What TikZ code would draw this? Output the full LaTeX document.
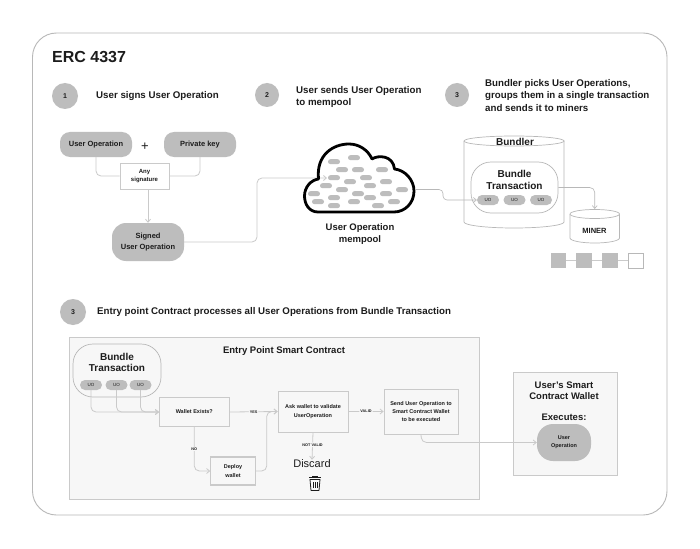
\documentclass[tikz,border=0pt]{standalone}
\usepackage{fontspec}
\setmainfont{Liberation Sans}
\usetikzlibrary{arrows.meta}
\definecolor{ink}{HTML}{1C1C1C}
\definecolor{greyfill}{HTML}{BDBDBD}
\definecolor{wire}{HTML}{CACACA}
\definecolor{frame}{HTML}{B8B8B8}
\definecolor{panel}{HTML}{F7F7F7}
\tikzset{
  txt/.style={inner sep=0pt,text=ink,align=center,font=\bfseries\fontsize{#1}{#1}\selectfont},
  txt/.default=8,
  lefttxt/.style={inner sep=0pt,text=ink,align=left,anchor=west,font=\bfseries\fontsize{9.72}{12.2}\selectfont},
  badge/.style={circle,fill=greyfill,inner sep=0pt,minimum size=#1,text=ink,font=\bfseries\fontsize{7}{7}\selectfont},
  greybox/.style={fill=greyfill,draw=none,inner sep=0pt,rounded corners=10pt,text=ink,align=center,font=\bfseries\fontsize{7.5}{11}\selectfont},
  whitebox/.style={fill=white,draw=wire,line width=.8pt,inner sep=0pt,text=ink,align=center,font=\bfseries\fontsize{6}{8}\selectfont},
  panelbox/.style={fill=panel,draw=wire,line width=.9pt,inner sep=0pt},
  bundlebox/.style={fill=white,draw=frame,line width=.7pt,inner sep=0pt,rounded corners=20pt},
  uopill/.style={fill=greyfill,inner sep=0pt,rounded corners=5pt,minimum width=22pt,minimum height=10pt,text=ink,font=\fontsize{4.5}{4.5}\selectfont},
  cloudpill/.style={fill=greyfill,inner sep=0pt,rounded corners=2.5pt,minimum width=12pt,minimum height=5pt},
  wirearrow/.style={draw=wire,line width=.8pt,rounded corners=5pt,-{Straight Barb[length=3pt,width=5pt]}},
  wireline/.style={draw=wire,line width=.8pt,rounded corners=5pt},
  tiny/.style={inner sep=1pt,fill=#1,text=ink,font=\bfseries\fontsize{3.8}{4}\selectfont},
  tiny/.default=panel,
  cyl/.style={draw=frame,line width=.7pt,fill=white},
  chain/.style={fill=greyfill,inner sep=0pt,minimum size=15.5pt},
}
\begin{document}
\begin{tikzpicture}[x=1pt,y=-1pt]
\useasboundingbox (0,0) rectangle (700,548);
\fill[white] (0,0) rectangle (700,548);
\draw[frame,line width=.9pt,rounded corners=24pt] (32.5,33) rectangle (667,515);

% headings
\node[inner sep=0pt,anchor=west,text=ink,font=\bfseries\fontsize{16}{16}\selectfont] (title) at (52,57.5) {ERC 4337};
\node[badge=26pt] (b1) at (65,96) {1};
\node[lefttxt] (h1) at (96,96) {User signs User Operation};
\node[badge=24pt] (b2) at (267,95) {2};
\node[lefttxt] (h2) at (296,97) {User sends User Operation\\to mempool};
\node[badge=24pt] (b3) at (457,95) {3};
\node[lefttxt] (h3) at (485,95.5) {Bundler picks User Operations,\\groups them in a single transaction\\and sends it to miners};
\node[badge=26pt] (b4) at (73,312) {3};
\node[lefttxt] (h4) at (97,312) {Entry point Contract processes all User Operations from Bundle Transaction};

% step 1
\node[greybox,minimum width=72pt,minimum height=25pt] (uop) at (96,144.5) {User Operation};
\node[greybox,minimum width=72pt,minimum height=25pt] (pk) at (200,144.5) {Private key};
\node[inner sep=0pt,text=ink,font=\fontsize{13}{13}\selectfont] (plus) at (145,146.5) {+};
\node[whitebox,minimum width=49pt,minimum height=26pt] (any) at (144.5,176) {Any\\signature};
\node[greybox,minimum width=72pt,minimum height=38pt,rounded corners=14pt] (signed) at (148,242) {Signed\\User Operation};
\draw[wireline] (uop.south) |- (any.west);
\draw[wireline] (pk.south) |- (any.east);
\draw[wirearrow] (any.south -| signed.north) -- (signed.north);

% cloud
\coordinate (cloudin) at (327,178);
\coordinate (cloudout) at (415,189.5);
\coordinate (bend1) at (257,178);
\draw[wirearrow] (signed.east) -| (bend1) -- (cloudin);
\draw[black,line width=2.8pt,line join=round] (318.5,179)
  .. controls (316,155) and (333,144) .. (349,144)
  .. controls (359,144) and (368,150) .. (372,159)
  .. controls (378,155) and (393,155) .. (394.5,169)
  .. controls (405,170) and (414,180) .. (414,191)
  .. controls (414,203) and (405,212) .. (394,212)
  -- (318,212)
  .. controls (309,212) and (304.5,204) .. (304.5,196)
  .. controls (304.5,187) and (311,180) .. (318.5,179) -- cycle;
\foreach \i/\X/\Y in {a/117/80,b/177/68,c/141/104,d/189/104,e/261/104,f/117/128,g/213/128,h/165/140,i/273/140,j/93/152,k/225/152,l/321/164,m/141/164,n/57/176,o/189/176,p/273/176,q/117/188,r/225/188,s/69/200,t/177/200,u/297/200,v/117/212,w/249/212}
  \node[cloudpill] (cp\i) at ({295+\X/3},{135+\Y/3}) {};
\node[txt=9.5,font=\bfseries\fontsize{9.5}{12}\selectfont] (memlabel) at (360,234) {User Operation\\mempool};

% bundler
\draw[cyl] (464,141) -- (464,222) arc[start angle=180,end angle=360,x radius=50pt,y radius=6pt] -- (564,141);
\draw[cyl] (514,141) ellipse[x radius=50pt,y radius=5pt];
\node[txt=10] (bundler) at (515,142) {Bundler};
\node[bundlebox,minimum width=87pt,minimum height=51pt] (bt) at (514.5,187.5) {};
\node[txt=10,font=\bfseries\fontsize{10}{12}\selectfont] (btl) at (514.5,180) {Bundle\\Transaction};
\node[uopill] (u1) at (488,200) {UO};
\node[uopill] (u2) at (514.5,200) {UO};
\node[uopill] (u3) at (541,200) {UO};
\coordinate (bend2) at (443,189.5);
\coordinate (bend3) at (443,200);
\draw[wirearrow,draw=frame,line width=.6pt,rounded corners=4pt] (cloudout) -- (bend2) -- (bend3) -- (u1.west);

% miner
\draw[cyl] (570,214) -- (570,238) arc[start angle=180,end angle=360,x radius=24.75pt,y radius=5pt] -- (619.5,214);
\draw[cyl] (594.75,214) ellipse[x radius=24.75pt,y radius=4.5pt];
\coordinate (minertop) at (594.75,209);
\node[txt=7.5] (miner) at (594.5,231) {MINER};
\draw[wirearrow,draw=frame,line width=.6pt] (bt.east) -| (minertop);
\node[chain] (s1) at (558.5,260.5) {};
\node[chain] (s2) at (584,260.5) {};
\node[chain] (s3) at (610,260.5) {};
\node[fill=white,draw=frame,line width=.7pt,inner sep=0pt,minimum size=15pt] (s4) at (636,260.5) {};
\draw[wireline] (s1) -- (s2);
\draw[wireline] (s2) -- (s3);
\draw[wireline] (s3) -- (s4);

% entry point panel
\node[panelbox,minimum width=410pt,minimum height=162pt] (entry) at (274,418) {};
\node[txt=9.5] (entrylabel) at (284,351) {Entry Point Smart Contract};
\node[bundlebox,fill=panel,minimum width=88pt,minimum height=53pt] (bt2) at (117,370.5) {};
\node[txt=10,font=\bfseries\fontsize{10}{11.5}\selectfont] (bt2l) at (117,362.5) {Bundle\\Transaction};
\node[uopill] (v1) at (91,385) {UO};
\node[uopill] (v2) at (116.5,385) {UO};
\node[uopill] (v3) at (140.5,385) {UO};
\node[whitebox,fill=panel,minimum width=70pt,minimum height=29.5pt,font=\bfseries\fontsize{5.5}{8}\selectfont] (we) at (194.3,412) {Wallet Exists?};
\node[whitebox,fill=panel,minimum width=70pt,minimum height=41pt,font=\bfseries\fontsize{5.5}{8.5}\selectfont] (ask) at (313,411.5) {Ask wallet to validate\\UserOperation};
\node[whitebox,fill=panel,line width=1.2pt,minimum width=44.5pt,minimum height=28pt,font=\bfseries\fontsize{5.5}{8.5}\selectfont] (deploy) at (233,471) {Deploy\\wallet};
\node[whitebox,fill=panel,minimum width=74pt,minimum height=45pt,font=\bfseries\fontsize{5.5}{8}\selectfont] (send) at (421,411.5) {Send User Operation to\\Smart Contract Wallet\\to be executed};
\draw[wirearrow] (v1.south) |- (we.west);
\draw[wirearrow] (v2.south) |- (we.west);
\draw[wirearrow] (v3.south) |- (we.west);
\draw[wirearrow] (we.east) -- (ask.west) node[midway,tiny] (yes) {YES};
\draw[wirearrow] (we.south) |- (deploy.west);
\node[tiny] (no) at (194.3,449) {NO};
\coordinate (bend4) at (266.7,411.5);
\draw[wirearrow] (deploy.east) -| (bend4) -- (ask.west);
\node[inner sep=0pt,text=ink,font=\fontsize{11}{11}\selectfont] (discard) at (312,464) {Discard};
\draw[wirearrow] (ask.south) -- (discard.north) node[pos=.45,tiny] (nv) {NOT VALID};
\draw[wirearrow] (ask.east) -- (send.west) node[midway,tiny] (valid) {VALID};

% trash icon
\draw[ink,line width=.8pt,line join=round] (310,479.5) -- (311,490.5) -- (319,490.5) -- (320,479.5) -- cycle;
\draw[ink,line width=1pt] (309,477.5) -- (321,477.5);
\draw[ink,line width=.6pt] (312.5,477.5) -- (312.5,476) -- (317.5,476) -- (317.5,477.5);
\draw[ink,line width=.5pt] (313,482) -- (313,488) (315,482) -- (315,488) (317,482) -- (317,488);

% wallet panel
\node[panelbox,minimum width=104pt,minimum height=103pt] (wallet) at (565,423.5) {};
\node[txt=9.5,font=\bfseries\fontsize{9.5}{11.5}\selectfont] (wl) at (564,390.5) {User's Smart\\Contract Wallet};
\node[txt=9.5] (exec) at (564,417) {Executes:};
\node[greybox,minimum width=54pt,minimum height=37pt,rounded corners=16pt,font=\bfseries\fontsize{5.5}{8}\selectfont] (wuop) at (564,442.5) {User\\Operation};
\coordinate (bend5) at (421.5,442.5);
\draw[wirearrow] (send.south) -- (bend5) -- (wuop.west);
\end{tikzpicture}
\end{document}
